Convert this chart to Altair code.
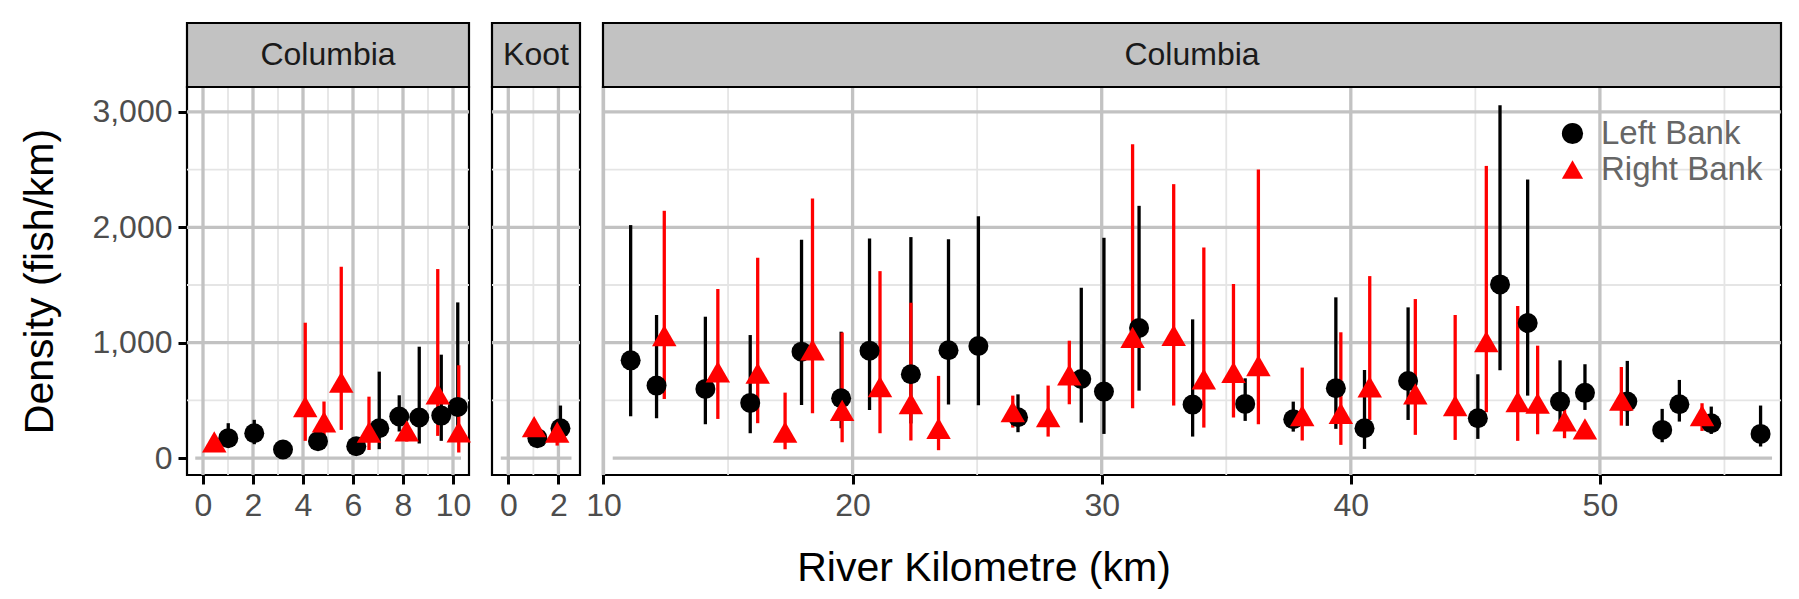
import altair as alt
import pandas as pd

FONT = "Liberation Sans"

# ---------------- data ----------------
# Left bank (black circles)
left_panel = ["up"] * 10 + ["koot"] * 2 + ["down"] * 30
left_km = [1.01, 2.05, 3.2, 4.6, 6.13, 7.05, 7.85, 8.65, 9.53, 10.19,
           1.16, 2.08,
           11.09, 12.13, 14.09, 15.89, 17.95, 19.54, 20.68, 22.34, 23.85, 25.05,
           26.64, 29.18, 30.09, 31.50, 33.65, 35.76, 37.69, 39.40, 40.55, 42.30,
           45.10, 45.99, 47.10, 48.40, 49.40, 51.10, 52.50, 53.19, 54.47, 56.45]
left_dens = [172, 215, 74, 146, 102, 258, 360, 351, 368, 443,
             172, 258,
             847, 628, 599, 478, 922, 518, 931, 726, 934, 971,
             354, 685, 576, 1127, 463, 469, 336, 605, 258, 668,
             345, 1505, 1170, 489, 565, 489, 244, 466, 302, 209]
left_lo = [90, 120, 40, 80, 60, 77, 230, 126, 149, 200,
           110, 150,
           362, 345, 293, 215, 460, 258, 417, 300, 464, 458,
           224, 307, 209, 584, 186, 322, 229, 253, 79, 330,
           166, 760, 541, 320, 417, 279, 137, 316, 209, 100]
left_hi = [302, 331, 110, 210, 150, 749, 544, 965, 896, 1349,
           230, 455,
           2019, 1240, 1225, 1066, 1892, 1095, 1903, 1915, 1897, 2096,
           552, 1476, 1909, 2186, 1202, 691, 489, 1393, 763, 1306,
           726, 3057, 2414, 847, 813, 842, 426, 677, 446, 455]

# Right bank (red triangles)
right_panel = ["up"] * 8 + ["koot"] * 2 + ["down"] * 29
right_km = [0.45, 4.09, 4.84, 5.53, 6.64, 8.15, 9.39, 10.23,
            1.03, 1.95,
            12.44, 14.59, 16.19, 17.29, 18.39, 19.58, 21.10, 22.34, 23.45, 26.43,
            27.85, 28.70, 31.24, 32.89, 34.10, 35.29, 36.29, 38.05, 39.60, 40.76,
            42.59, 44.19, 45.44, 46.70, 47.50, 48.58, 49.40, 50.86, 54.10]
right_dens = [140, 446, 313, 657, 224, 235, 556, 227,
              273, 224,
              1061, 746, 735, 224, 937, 414, 618, 472, 258, 403,
              359, 720, 1046, 1064, 685, 743, 801, 368, 388, 616,
              556, 455, 1009, 489, 475, 322, 252, 501, 368]
right_lo = [100, 149, 200, 244, 70, 143, 192, 48,
            230, 108,
            512, 339, 302, 76, 388, 137, 215, 152, 68, 264,
            186, 466, 431, 455, 264, 351, 293, 152, 114, 330,
            201, 157, 397, 149, 206, 172, 200, 281, 235]
right_hi = [180, 1173, 490, 1658, 532, 310, 1638, 804,
            310, 300,
            2143, 1465, 1736, 567, 2249, 1088, 1620, 1346, 712, 541,
            628, 1017, 2720, 2374, 1825, 1508, 2500, 784, 1090, 1577,
            1378, 1240, 2532, 1318, 974, 450, 300, 789, 475]

# panels
panel_ids = ["up", "koot", "down"]
panel_labels = ["Columbia", "Koot", "Columbia"]
panel_widths = [282, 88, 1178]
panel_xdomain = [[-0.64, 10.64], [-0.65, 2.86], [9.98, 57.27]]
panel_major = [[0, 2, 4, 6, 8, 10], [0, 2], [10, 20, 30, 40, 50]]
panel_minor = [[1, 3, 5, 7, 9], [1], [15, 25, 35, 45, 55]]
zero_start = [-0.31, -0.30, 10.37]
zero_end = [10.32, 2.52, 56.91]

y_domain = [-147, 3216]
y_major = [1000, 2000, 3000]
y_minor = [500, 1500, 2500]
y_ticks = [0, 1000, 2000, 3000]

banks = ["Left Bank", "Right Bank"]

left_df = pd.DataFrame({"panel": left_panel, "km": left_km, "dens": left_dens,
                        "lo": left_lo, "hi": left_hi, "bank": banks[0]})
right_df = pd.DataFrame({"panel": right_panel, "km": right_km, "dens": right_dens,
                         "lo": right_lo, "hi": right_hi, "bank": banks[1]})

H = 388
MAJOR_C = "#c2c2c2"
MINOR_C = "#e5e5e5"


def make_panel(i):
    pid = panel_ids[i]
    W = panel_widths[i]
    xs = alt.Scale(domain=panel_xdomain[i], nice=False, zero=False)
    ys = alt.Scale(domain=y_domain, nice=False, zero=False)
    first = i == 0
    last = i == 2

    xaxis_kw = dict(values=panel_major[i], labelFlush=False, labelOverlap=False,
                    format="d")
    if last:
        xaxis_kw.update(title="River Kilometre (km)", titleX=380.5, titleY=105,
                        titleBaseline="alphabetic", titleAlign="center")
    else:
        xaxis_kw.update(title=None)
    xaxis = alt.Axis(**xaxis_kw)
    if first:
        yaxis = alt.Axis(values=y_ticks, format=",.0f", title="Density (fish/km)",
                         titleX=-134.5, titleBaseline="alphabetic")
    else:
        yaxis = None

    vmin = pd.DataFrame({"v": panel_minor[i]})
    vmaj = pd.DataFrame({"v": panel_major[i]})
    hmin = pd.DataFrame({"v": y_minor})
    hmaj = pd.DataFrame({"v": y_major})
    zl = pd.DataFrame({"a": [zero_start[i]], "b": [zero_end[i]], "y": [0]})
    strip = pd.DataFrame({"label": [panel_labels[i]]})

    ldf = left_df[left_df.panel == pid]
    rdf = right_df[right_df.panel == pid]

    g_vmin = alt.Chart(vmin).mark_rule(color=MINOR_C, strokeWidth=1.8).encode(
        x=alt.X("v:Q", scale=xs, axis=xaxis))
    g_hmin = alt.Chart(hmin).mark_rule(color=MINOR_C, strokeWidth=1.8).encode(
        y=alt.Y("v:Q", scale=ys, axis=yaxis))
    g_vmaj = alt.Chart(vmaj).mark_rule(color=MAJOR_C, strokeWidth=3.3).encode(
        x=alt.X("v:Q", scale=xs))
    g_hmaj = alt.Chart(hmaj).mark_rule(color=MAJOR_C, strokeWidth=3.3).encode(
        y=alt.Y("v:Q", scale=ys))
    g_zero = alt.Chart(zl).mark_rule(color=MAJOR_C, strokeWidth=3.3).encode(
        x=alt.X("a:Q", scale=xs), x2="b:Q", y=alt.Y("y:Q", scale=ys))

    col_scale = alt.Scale(domain=banks, range=["black", "red"])
    shp_scale = alt.Scale(domain=banks, range=["circle", "triangle-up"])
    if last:
        leg = alt.Legend(title=None, orient="none", legendX=953, legendY=30)
    else:
        leg = None

    bar_l = alt.Chart(ldf).mark_rule(color="black", strokeWidth=3.3).encode(
        x=alt.X("km:Q", scale=xs), y=alt.Y("lo:Q", scale=ys), y2="hi:Q")
    bar_r = alt.Chart(rdf).mark_rule(color="red", strokeWidth=3.3).encode(
        x=alt.X("km:Q", scale=xs), y=alt.Y("lo:Q", scale=ys), y2="hi:Q")
    pt_l = alt.Chart(ldf).mark_point(filled=True, opacity=1, size=400).encode(
        x=alt.X("km:Q", scale=xs), y=alt.Y("dens:Q", scale=ys),
        color=alt.Color("bank:N", scale=col_scale, legend=leg),
        shape=alt.Shape("bank:N", scale=shp_scale, legend=leg))
    pt_r = alt.Chart(rdf).mark_point(filled=True, opacity=1, size=600).encode(
        x=alt.X("km:Q", scale=xs), y=alt.Y("dens:Q", scale=ys),
        color=alt.Color("bank:N", scale=col_scale, legend=leg),
        shape=alt.Shape("bank:N", scale=shp_scale, legend=leg))

    s_rect = alt.Chart(strip).mark_rect(fill="#c2c2c2", stroke="black",
                                         strokeWidth=2.2).encode(
        x=alt.value(0), x2=alt.value(W), y=alt.value(-64), y2=alt.value(0))
    s_text = alt.Chart(strip).mark_text(font=FONT, fontSize=32, color="#1a1a1a",
                                         baseline="middle", align="center").encode(
        text="label:N", x=alt.value(W / 2), y=alt.value(-32))

    layer = alt.layer(g_vmin, g_hmin, g_vmaj, g_hmaj, g_zero, bar_l, bar_r,
                      pt_l, pt_r, s_rect, s_text).properties(width=W, height=H)
    return layer


panels = [make_panel(i) for i in range(3)]

chart = alt.hconcat(*panels, spacing=23, bounds="flush").resolve_scale(
    color="independent", shape="independent"
).properties(
    padding={"left": 10, "top": 12, "right": 5, "bottom": 5}
).configure_view(
    stroke="black", strokeWidth=2.2
).configure_axis(
    labelFont=FONT, titleFont=FONT, labelFontSize=32, titleFontSize=41,
    labelColor="#4d4d4d", titleColor="black", titleFontWeight="normal",
    tickColor="black", tickWidth=3, tickSize=9, domain=False, grid=False,
    labelPadding=6
).configure_legend(
    labelFont=FONT, labelFontSize=33, labelColor="#666666", symbolSize=450,
    padding=0, labelOffset=12, rowPadding=2, symbolStrokeWidth=0,
    symbolOpacity=1, labelLimit=400
)

chart.save("out.html", embed_options={"renderer": "svg", "actions": False})
